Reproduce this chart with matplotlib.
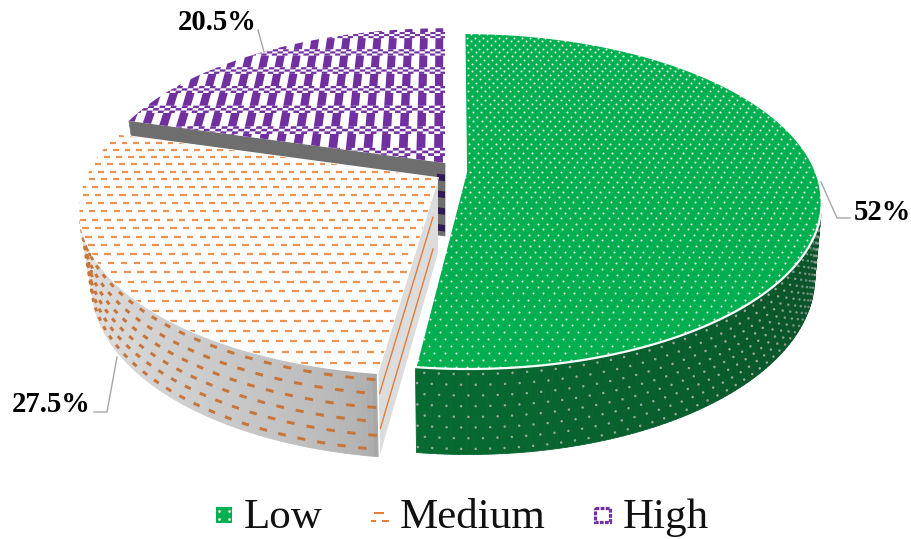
import numpy as np
import matplotlib
matplotlib.use("Agg")
import matplotlib.pyplot as plt
from matplotlib.collections import LineCollection, PolyCollection
from matplotlib.patches import Polygon, Rectangle

categories = ["Low", "Medium", "High"]
values = [52, 27.5, 20.5]

# pie layout, all in pixels
apex = {"Low": (466, 172), "Medium": (438, 178), "High": (445, 163)}
radius_x = {"Low": 350, "Medium": 352, "High": 345}
radius_y = {"Low": 163, "Medium": 163, "High": 158}
skew = {"Low": 2, "Medium": -6, "High": 0}
shrink = {"Low": 0.98, "Medium": 0.965, "High": 0.965}  # bottom ring is further from the camera
depth = {"Low": 74, "Medium": 75, "High": 73}           # slice thickness at the apex
TILT = 0.1726    # perspective strength

GREEN = "#00b050"
ORANGE = "#ed7d31"
PURPLE = "#7030a0"
LEADER = "#a6a6a6"
PX = 0.72  # points per pixel at dpi 100

plt.rcParams["font.family"] = ["Liberation Serif", "DejaVu Serif"]

fig = plt.figure(figsize=(9.11, 5.39), dpi=100)
ax = fig.add_axes([0, 0, 1, 1])
ax.set_xlim(0, 911)
ax.set_ylim(539, 0)
ax.axis("off")


def top(name, u, v):
    v = np.asarray(v)
    w = 1 / (1 - TILT * v)
    return (apex[name][0] + (radius_x[name] * np.asarray(u) + skew[name] * v) * w,
            apex[name][1] + radius_y[name] * v * w)


def bottom(name, u, v):
    v = np.asarray(v)
    w = 1 / (1 - TILT * v)
    s = shrink[name]
    return (apex[name][0] + (s * radius_x[name] * np.asarray(u) + skew[name] * v) * w,
            apex[name][1] + (depth[name] + s * radius_y[name] * v) * w)


def polar(deg, r=1.0):
    a = np.radians(deg)
    return r * np.sin(a), -r * np.cos(a)


def on_wall(name, deg, t, r=1.0):
    u, v = polar(deg, r)
    x0, y0 = top(name, u, v)
    x1, y1 = bottom(name, u, v)
    return x0 + (x1 - x0) * t, y0 + (y1 - y0) * t


def sector(name, a0, a1, **kw):
    th = np.linspace(a0, a1, 200)
    x, y = top(name, *polar(th))
    ap = apex[name]
    pts = np.column_stack([np.r_[ap[0], x], np.r_[ap[1], y]])
    patch = Polygon(pts, closed=True, **kw)
    ax.add_patch(patch)
    return patch


def wall(name, a0, a1, col0, col1, z, ease=1.0):
    # outer wall as thin quads so it can carry a colour ramp
    th = np.linspace(a0, a1, 120)
    c0, c1 = np.array(matplotlib.colors.to_rgb(col0)), np.array(matplotlib.colors.to_rgb(col1))
    quads, cols = [], []
    for i in range(len(th) - 1):
        xa, ya = on_wall(name, th[i], 0)
        xb, yb = on_wall(name, th[i + 1], 0)
        xc, yc = on_wall(name, th[i + 1], 1)
        xd, yd = on_wall(name, th[i], 1)
        quads.append([(xa, ya), (xb, yb), (xc, yc), (xd, yd)])
        cols.append(c0 + (c1 - c0) * (i / (len(th) - 2)) ** ease)
    ax.add_collection(PolyCollection(quads, facecolors=cols, edgecolors=cols, linewidths=0.6, zorder=z))


edges = np.r_[0, np.cumsum(values)] / sum(values) * 360
span = {c: (edges[i], edges[i + 1]) for i, c in enumerate(categories)}

# High: flat purple check weave with a grey cut face
a0, a1 = span["High"]
xa, ya = on_wall("High", a0, 0)
xb, yb = on_wall("High", a0, 1)
ax.add_patch(Polygon([(xa, ya), apex["High"], (apex["High"][0], apex["High"][1] + depth["High"]), (xb, yb)],
                     closed=True, fc="#6e6e6e", ec="#6e6e6e", lw=0.5, zorder=1))
stripes = []
for t in np.arange(0.16, 1.0, 0.23):
    corners = [on_wall("High", a0, t, 0.0), on_wall("High", a0, t, 0.024),
               on_wall("High", a0, t + 0.09, 0.024), on_wall("High", a0, t + 0.09, 0.0)]
    stripes.append(corners)
ax.add_collection(PolyCollection(stripes, facecolors="#2e1a55", edgecolors="none", zorder=1.5))

clip = sector("High", a0, a1, fc="white", ec="none", zorder=2)
ROW = 0.145
COL = 0.052
solid, checks = [], []
for i, v in enumerate(np.arange(-1.06, 0.1, ROW)):
    for u in np.arange(-1.02, 0.03, COL):
        q = [top("High", u, v), top("High", u + COL * 0.5, v),
             top("High", u + COL * 0.5, v + ROW * 0.64), top("High", u, v + ROW * 0.64)]
        solid.append(q)
    for r in range(3):
        vr = v + ROW * (0.64 + r * 0.12)
        for j, u in enumerate(np.arange(-1.02, 0.03, COL / 3)):
            if (j + r) % 2:
                continue
            q = [top("High", u, vr), top("High", u + COL / 3, vr),
                 top("High", u + COL / 3, vr + ROW * 0.12), top("High", u, vr + ROW * 0.12)]
            checks.append(q)
pc = PolyCollection(solid, facecolors=PURPLE, edgecolors="none", zorder=2.1)
ax.add_collection(pc)
pc.set_clip_path(clip)
pc = PolyCollection(checks, facecolors=PURPLE, edgecolors="none", zorder=2.1)
ax.add_collection(pc)
pc.set_clip_path(clip)

# Low: green dots on top, grey dots on the shaded wall
a0, a1 = span["Low"]
wall("Low", 70, a1, "#0b4422", "#076b31", 3)
dots, fade = [], []
for i, t in enumerate(np.arange(0.06, 1.0, 0.125)):
    for deg in np.arange(70 + (i % 2) * 1.0, a1 - 0.2, 2.0):
        dots.append(on_wall("Low", deg, t))
        # the dots die away where the wall turns out of view
        fade.append(min(1.0, max(0.25, (deg - 75) / 55)))
dots = np.array(dots)
dot_cols = np.ones((len(dots), 4))
dot_cols[:, :3] = matplotlib.colors.to_rgb("#9aa8a0")
dot_cols[:, 3] = fade
ax.scatter(dots[:, 0], dots[:, 1], s=3.2, c=dot_cols, linewidths=0, zorder=3.1)

clip = sector("Low", a0, a1, fc=GREEN, ec="white", lw=1.6, zorder=4)
ux, vy = [], []
for i, v in enumerate(np.arange(-1.02, 1.02, 0.03)):
    us = np.arange(-0.25 + (i % 2) * 0.013, 1.05, 0.026)
    ux.extend(us)
    vy.extend([v] * len(us))
x, y = top("Low", np.array(ux), np.array(vy))
sc = ax.scatter(x, y, s=2.1, c="#e8f8ee", linewidths=0, zorder=4.1)
sc.set_clip_path(clip)

# Medium: orange dashes on white, grey wall and cut face
a0, a1 = span["Medium"]
wall("Medium", a0, 285, "#a8a8a8", "#ececec", 5, ease=0.5)
segs = []
for i, t in enumerate(np.arange(0.08, 1.0, 1 / 6)):
    for deg in np.arange(a0 + 0.9 + (i % 2) * 1.5, 264, 3.0):
        segs.append([on_wall("Medium", deg - 0.6, t), on_wall("Medium", deg + 0.6, t)])
ax.add_collection(LineCollection(segs, colors="#c8753a", linewidths=3.0 * PX, capstyle="butt", zorder=5.1))

ap = apex["Medium"]
rim_top = on_wall("Medium", a0, 0)
rim_low = on_wall("Medium", a0, 1)
ax.add_patch(Polygon([rim_top, ap, (ap[0], ap[1] + depth["Medium"]), rim_low], closed=True,
                     fc="#dcdcdc", ec="none", zorder=5.2))
for t in [0.3, 0.72]:
    ax.plot(*zip(on_wall("Medium", a0, t, 0.98), on_wall("Medium", a0, t, 0.1)),
            color="#de7f3c", lw=1.4 * PX, zorder=5.3)
ax.plot(*zip(rim_top, rim_low), color="white", lw=1.6 * PX, zorder=5.3)

clip = sector("Medium", a0, a1, fc="#fdfdfd", ec="white", lw=1.2, zorder=6)
segs = []
for i, v in enumerate(np.arange(-0.32, 1.04, 0.047)):
    for u in np.arange(-1.04 + (i % 2) * 0.017, 0.02, 0.034):
        segs.append([top("Medium", u, v), top("Medium", u + 0.017, v)])
lc = LineCollection(segs, colors="#f0914f", linewidths=2.2 * PX, capstyle="butt", zorder=6.1)
ax.add_collection(lc)
lc.set_clip_path(clip)

# leaders and value labels
ax.plot([821, 837, 850], [182, 218, 218], color=LEADER, lw=1.4 * PX, zorder=7)
ax.plot([117, 107, 94], [357, 412, 412], color=LEADER, lw=1.4 * PX, zorder=7)
ax.plot([258, 264], [30, 52], color=LEADER, lw=1.4 * PX, zorder=7)
label_xy = [(854, 220), (12, 412), (178, 30)]
for val, (lx, ly) in zip(values, label_xy):
    ax.text(lx, ly, f"{val:g}%", fontsize=20.6, fontweight="bold", color="black",
            ha="left", va="baseline", zorder=8)

# legend row
legend_x = [244, 400, 623]
for name, lx in zip(categories, legend_x):
    ax.text(lx, 528, name, fontsize=31, color="#111111", ha="left", va="baseline")

ax.add_patch(Rectangle((216, 507), 16, 16, fc=GREEN, ec="none"))
ax.scatter([219, 229, 219, 229], [511, 511, 519, 519], s=3.5, c="white", linewidths=0)
ax.plot([375, 383], [513, 513], color=ORANGE, lw=2 * PX)
ax.plot([372, 375], [521, 521], color=ORANGE, lw=2 * PX)
ax.plot([383, 388], [521, 521], color=ORANGE, lw=2 * PX)
ax.add_patch(Rectangle((595, 508), 15, 14, fc="white", ec=PURPLE, lw=3.2 * PX, ls=(0, (1.2, 0.4))))

fig.savefig("out.png", dpi=100)
